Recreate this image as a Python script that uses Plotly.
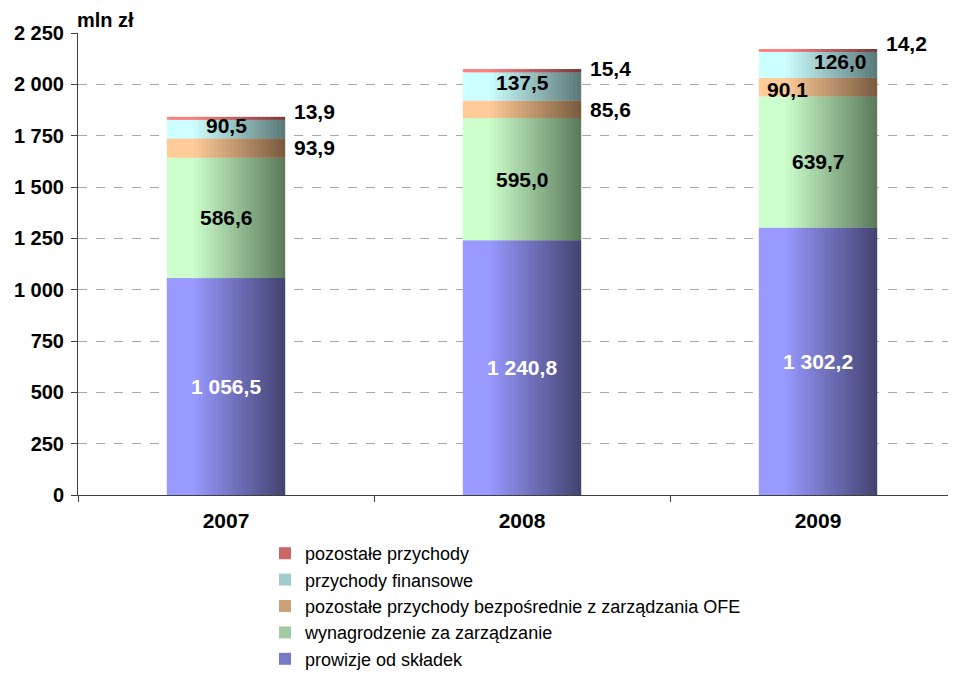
import plotly.graph_objects as go

years = ["2007", "2008", "2009"]
prowizje = [1056.5, 1240.8, 1302.2]
wynagrodzenie = [586.6, 595.0, 639.7]
bezposrednie = [93.9, 85.6, 90.1]
finansowe = [90.5, 137.5, 126.0]
pozostale = [13.9, 15.4, 14.2]

series_names = [
    "prowizje od składek",
    "wynagrodzenie za zarządzanie",
    "pozostałe przychody bezpośrednie z zarządzania OFE",
    "przychody finansowe",
    "pozostałe przychody",
]
series_values = [prowizje, wynagrodzenie, bezposrednie, finansowe, pozostale]
light = [(153, 153, 255), (204, 255, 204), (255, 204, 153), (204, 255, 255), (255, 128, 128)]
dark = [(66, 66, 112), (90, 120, 90), (120, 90, 62), (90, 120, 120), (120, 58, 58)]

FONT = "Liberation Sans, Arial, sans-serif"
BAR_W = 0.40
N = 30

fig = go.Figure()
base = [0.0] * len(years)
for si, (name, vals) in enumerate(zip(series_names, series_values)):
    for k in range(N):
        s = (k + 0.5) / N
        t = max(0.0, min(1.0, (s - 0.22) / 0.78))
        c = tuple(round(light[si][j] + (dark[si][j] - light[si][j]) * t) for j in range(3))
        col = "rgb(%d,%d,%d)" % c
        w = BAR_W / N * (1.8 if k < N - 1 else 1.0)
        fig.add_trace(go.Bar(
            x=years, y=vals, base=list(base),
            width=w, offset=-BAR_W / 2 + k * BAR_W / N,
            marker=dict(color=col, line=dict(width=0)),
            name=name, legendgroup=name,
            showlegend=(k == N // 2), legendrank=100 - si,
            hoverinfo="skip",
        ))
    base = [b + v for b, v in zip(base, vals)]

# labels
ann = []
def lab(i, y, text, color="black", xanchor="center", x_off=0.0, xshift=0, yshift=0):
    ann.append(dict(x=i + x_off, y=y, text=text, showarrow=False, xanchor=xanchor,
                    yanchor="middle", xshift=xshift, yshift=yshift,
                    font=dict(family=FONT, size=21, color=color, weight="bold")))

fmt = lambda v: ("{:,.1f}".format(v)).replace(",", " ").replace(".", ",")
for i in range(3):
    b0 = prowizje[i]
    b1 = b0 + wynagrodzenie[i]
    b2 = b1 + bezposrednie[i]
    b3 = b2 + finansowe[i]
    b4 = b3 + pozostale[i]
    lab(i, b0 / 2, fmt(prowizje[i]), color="white")
    lab(i, (b0 + b1) / 2, fmt(wynagrodzenie[i]))
    if i < 2:
        lab(i, (b1 + b2) / 2, fmt(bezposrednie[i]), xanchor="left", x_off=BAR_W / 2, xshift=7)
        lab(i, (b2 + b3) / 2, fmt(finansowe[i]), yshift=4)
    else:
        lab(i, (b1 + b2) / 2, fmt(bezposrednie[i]), xshift=-31, yshift=-2)
        lab(i, (b2 + b3) / 2, fmt(finansowe[i]), xshift=22, yshift=3)
    lab(i, b4, fmt(pozostale[i]), xanchor="left", x_off=BAR_W / 2, xshift=7,
        yshift=(5 if i != 1 else 1))

ann.append(dict(x=0, y=1, xref="paper", yref="paper", text="mln zł", showarrow=False,
                xanchor="left", yanchor="bottom", xshift=-3, yshift=0,
                font=dict(family=FONT, size=20, color="black", weight="bold")))

tickvals = list(range(0, 2251, 250))
ticktext = ["{:,}".format(v).replace(",", " ") for v in tickvals]

# page body has an 8px margin: figure spans 8..956 x 8..675 of the window
fig.update_layout(
    width=948, height=667,
    margin=dict(l=70, r=0, t=25, b=180, autoexpand=False),
    barmode="overlay",
    plot_bgcolor="white", paper_bgcolor="white",
    annotations=ann,
    showlegend=True,
    legend=dict(x=(265 - 78) / 878, y=-(535 - 495) / 462, xanchor="left", yanchor="top",
                traceorder="normal", font=dict(family=FONT, size=18, color="black"),
                itemwidth=30, tracegroupgap=0, bgcolor="rgba(0,0,0,0)"),
    xaxis=dict(
        type="category", categoryorder="array", categoryarray=years,
        range=[-0.5, -0.5 + 878 / 296], automargin=False,
        showline=True, linecolor="#404040", linewidth=1,
        ticks="outside", ticklen=6, tickcolor="#404040", tickson="boundaries",
        showgrid=False, zeroline=False, ticklabelstandoff=7,
        tickfont=dict(family=FONT, size=21, color="black", weight="bold"),
    ),
    yaxis=dict(
        range=[0, 2250], tickvals=tickvals, ticktext=ticktext, automargin=False,
        showline=True, linecolor="#404040", linewidth=1,
        ticks="outside", ticklen=6, tickcolor="#404040",
        showgrid=True, gridcolor="#a8a8a8", griddash="dash", gridwidth=1,
        zeroline=False, ticklabelstandoff=3,
        tickfont=dict(family=FONT, size=20, color="black", weight="bold"),
    ),
)

fig.write_html("out.html")
